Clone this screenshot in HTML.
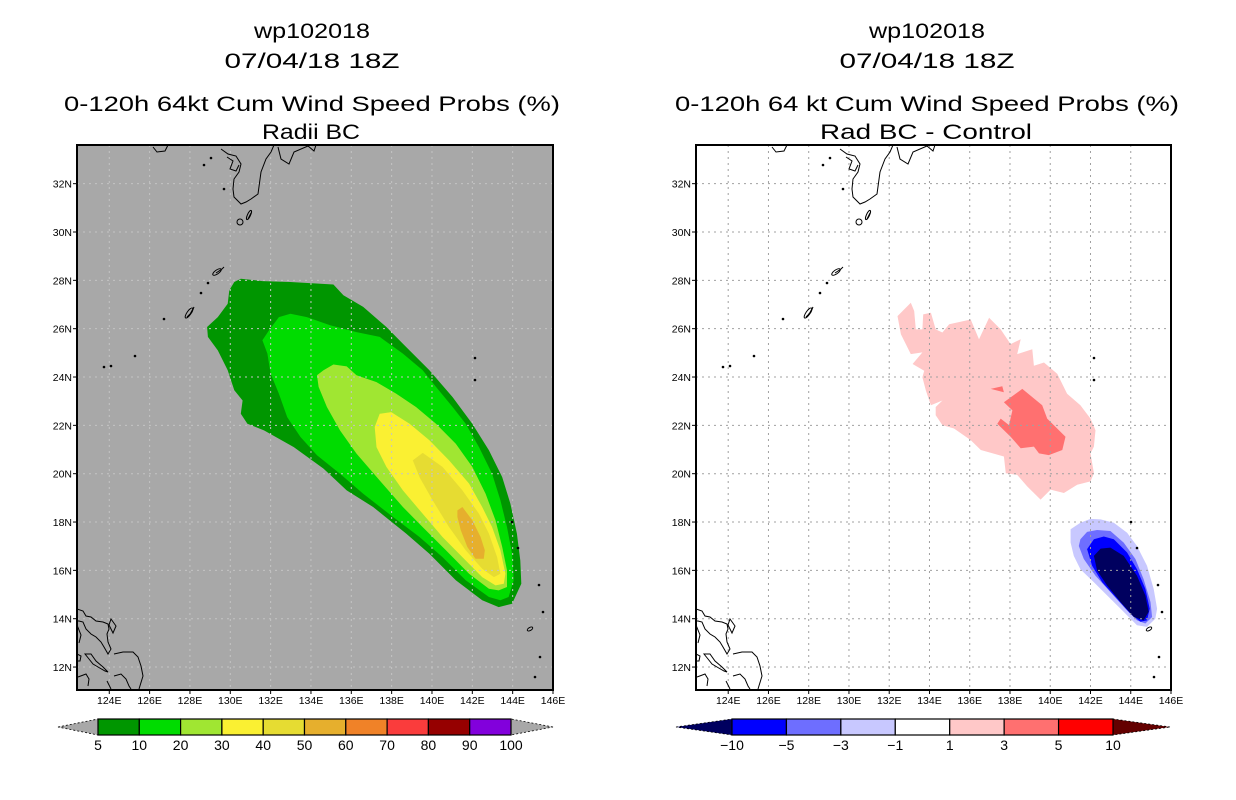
<!DOCTYPE html>
<html><head><meta charset="utf-8">
<style>
html,body{margin:0;padding:0;background:#fff;}
svg{display:block;font-family:"Liberation Sans",sans-serif;}
</style></head>
<body>
<svg id="fig" width="1236" height="800" viewBox="0 0 1236 800" xmlns="http://www.w3.org/2000/svg">
  <g font-size="21" text-anchor="middle" fill="#000">
    <text x="312" y="38" textLength="116" lengthAdjust="spacingAndGlyphs">wp102018</text>
    <text x="312" y="68" textLength="175" lengthAdjust="spacingAndGlyphs">07/04/18 18Z</text>
    <text x="312" y="111" textLength="496" lengthAdjust="spacingAndGlyphs">0-120h 64kt Cum Wind Speed Probs (%)</text>
    <text x="311" y="139" textLength="98" lengthAdjust="spacingAndGlyphs">Radii BC</text>
  </g>
  <g font-size="21" text-anchor="middle" fill="#000">
    <text x="927" y="38" textLength="116" lengthAdjust="spacingAndGlyphs">wp102018</text>
    <text x="927" y="68" textLength="175" lengthAdjust="spacingAndGlyphs">07/04/18 18Z</text>
    <text x="927" y="111" textLength="504" lengthAdjust="spacingAndGlyphs">0-120h 64 kt Cum Wind Speed Probs (%)</text>
    <text x="926" y="139" textLength="212" lengthAdjust="spacingAndGlyphs">Rad BC - Control</text>
  </g>
  <g id="leftPanel"></g>
  <g id="rightPanel"></g>
  <g id="leftBar"></g>
  <g id="rightBar"></g>
</svg>
<script>
// ---- data ----
const lonTicks = [124,126,128,130,132,134,136,138,140,142,144,146];
const latTicks = [12,14,16,18,20,22,24,26,28,30,32];
const leftLevels = [5,10,20,30,40,50,60,70,80,90,100];
const leftColors = ["#009600","#00dc00","#a0e632","#faf032","#e6dc32","#e6af2d","#f08228","#fa3c3c","#960000","#8200dc"];
const rightLevels = [-10,-5,-3,-1,1,3,5,10];
const rightColors = ["#00005f","#0000ff","#6e6eff","#c8c8ff","#ffffff","#ffc8c8","#ff7070","#ff0000","#640000"];
// contour polygons [lon,lat]
const prob5 = [[130.52,28.07],[131.59,27.97],[132.98,27.93],[135.11,27.83],[135.61,27.38],[136.59,26.90],[137.74,26.07],[138.56,25.38],[139.87,24.28],[141.02,23.17],[142.0,22.07],[142.82,20.97],[143.48,19.86],[143.89,18.76],[144.21,17.52],[144.38,16.41],[144.43,15.45],[143.97,14.62],[143.31,14.48],[142.49,14.76],[141.18,15.59],[139.87,16.69],[138.72,17.52],[137.08,18.62],[135.77,19.31],[134.62,20.21],[133.15,21.10],[131.67,21.79],[130.85,22.07],[130.52,22.48],[130.61,23.03],[130.20,23.45],[129.87,24.28],[129.38,25.10],[128.89,25.66],[128.85,26.07],[129.38,26.48],[129.87,27.03],[129.95,27.59],[130.20,27.93]];
const prob10 = [[132.41,26.48],[132.98,26.62],[133.80,26.48],[134.95,26.14],[136.26,25.86],[137.41,25.66],[138.56,24.97],[139.54,24.28],[140.20,23.59],[141.02,22.76],[141.67,22.07],[142.33,21.10],[142.98,20.0],[143.39,18.90],[143.72,17.79],[143.97,16.69],[144.05,15.59],[143.80,14.90],[143.39,14.76],[142.82,14.90],[141.67,15.59],[140.52,16.55],[139.38,17.38],[138.07,18.21],[136.59,19.17],[135.44,20.0],[134.30,20.76],[133.48,21.52],[132.82,22.34],[132.41,23.31],[132.0,24.14],[131.84,24.97],[131.59,25.52],[131.92,25.93]];
const prob20 = [[134.62,24.28],[135.11,24.52],[135.77,24.44],[136.26,24.07],[137.25,23.79],[138.23,23.31],[139.21,22.76],[140.20,22.07],[141.18,21.24],[142.0,20.28],[142.66,19.17],[143.15,18.07],[143.48,16.97],[143.72,16.0],[143.72,15.31],[143.31,15.17],[142.82,15.24],[141.84,15.86],[140.69,16.83],[139.54,17.79],[138.56,18.62],[137.41,19.72],[136.26,20.83],[135.44,21.79],[134.79,22.76],[134.38,23.59],[134.30,24.07]];
const prob30 = [[137.41,22.48],[137.98,22.55],[138.89,22.07],[139.87,21.38],[140.85,20.55],[141.84,19.59],[142.49,18.62],[142.98,17.79],[143.39,16.83],[143.64,15.86],[143.56,15.45],[143.15,15.38],[142.49,15.72],[141.51,16.55],[140.52,17.38],[139.54,18.34],[138.56,19.31],[137.74,20.28],[137.25,21.10],[137.16,21.93]];
const prob40 = [[139.05,20.55],[139.54,20.86],[140.52,20.28],[141.51,19.31],[142.33,18.34],[142.82,17.52],[143.23,16.55],[143.39,15.86],[143.07,15.72],[142.49,16.07],[141.67,16.83],[140.85,17.79],[140.03,18.90],[139.38,19.86]];
const prob50 = [[141.26,18.48],[141.51,18.62],[142.0,18.07],[142.41,17.38],[142.62,16.83],[142.57,16.48],[142.16,16.48],[141.75,16.97],[141.43,17.66],[141.26,18.21]];
const diffPos1 = [[132.41,26.52],[133.07,27.07],[133.24,26.73],[133.32,25.97],[133.65,25.97],[133.69,26.59],[134.07,26.66],[134.31,25.97],[134.64,25.84],[134.98,26.18],[136.05,26.38],[136.46,25.56],[136.96,26.45],[137.54,25.97],[138.03,25.36],[138.53,25.56],[138.36,24.95],[139.11,25.15],[139.19,24.47],[139.69,24.60],[140.35,24.13],[140.84,23.31],[141.50,22.83],[142.0,22.28],[142.25,21.80],[142.17,21.12],[142.0,20.84],[142.17,20.02],[142.0,19.68],[141.34,19.54],[140.68,19.20],[140.02,19.34],[139.52,18.93],[138.86,19.47],[138.36,19.95],[137.79,20.02],[137.70,20.71],[136.55,20.98],[136.05,21.39],[135.22,21.87],[134.64,22.01],[134.31,22.42],[134.31,22.76],[134.64,23.03],[134.07,22.83],[133.82,23.44],[133.65,23.99],[133.74,24.26],[133.16,24.54],[133.65,25.02],[133.07,24.95],[132.58,25.77]];
const diffPos1b = [[132.41,24.95],[133.07,24.9],[133.2,25.0]];
const diffPos3 = [[137.70,22.96],[138.61,23.51],[139.60,22.83],[139.85,22.28],[140.76,21.53],[140.60,20.98],[139.93,20.77],[139.44,20.84],[139.19,21.12],[138.53,21.05],[138.03,21.53],[137.37,22.07],[137.54,22.28],[137.95,22.01],[138.12,22.62]];
const diffPos3b = [[137.04,23.51],[137.62,23.62],[137.70,23.37]];
const diffNeg1 = [[141.01,17.70],[141.50,17.97],[142.0,18.13],[142.50,18.11],[143.16,17.97],[143.82,17.56],[144.31,17.01],[144.81,16.19],[145.14,15.23],[145.31,14.41],[145.22,14.0],[144.81,13.66],[144.31,13.73],[143.65,14.28],[142.83,14.96],[142.17,15.51],[141.50,16.05],[141.17,16.60],[141.01,17.15]];
const diffNeg3 = [[141.50,17.29],[141.83,17.59],[142.33,17.67],[142.99,17.63],[143.65,17.15],[144.23,16.47],[144.64,15.64],[144.98,14.69],[145.06,14.07],[144.73,13.80],[144.31,13.93],[143.74,14.41],[142.99,15.10],[142.25,15.78],[141.67,16.47],[141.42,17.01]];
const diffNeg5 = [[141.83,16.88],[142.17,17.29],[142.66,17.40],[143.16,17.29],[143.82,16.74],[144.31,16.05],[144.73,15.23],[144.94,14.41],[144.81,13.93],[144.48,13.87],[143.98,14.21],[143.32,14.82],[142.58,15.51],[142.08,16.19]];
const diffNeg10 = [[142.17,16.60],[142.50,16.90],[142.99,16.94],[143.65,16.60],[144.31,15.78],[144.73,14.96],[144.89,14.28],[144.64,13.93],[144.15,14.07],[143.49,14.69],[142.83,15.37],[142.33,15.99]];

const NS = "http://www.w3.org/2000/svg";
function mk(tag, attrs, parent){ const e=document.createElementNS(NS,tag); for(const k in attrs) e.setAttribute(k,attrs[k]); if(parent) parent.appendChild(e); return e; }

function drawPanel(g, P, bg, gridColor, fills){
  const LON0=122.4, LON1=146, LAT0=11.05, LAT1=33.6;
  const xs = lon => P.x0 + (lon-LON0)/(LON1-LON0)*(P.x1-P.x0);
  const ys = lat => P.y0 + (LAT1-lat)/(LAT1-LAT0)*(P.y1-P.y0);
  const bgR = mk('rect',{x:P.x0,y:P.y0,width:P.x1-P.x0,height:P.y1-P.y0,fill:bg},g);
  
  
  const clipId = 'clip'+P.x0;
  const cp = mk('clipPath',{id:clipId},g);
  mk('rect',{x:P.x0,y:P.y0,width:P.x1-P.x0,height:P.y1-P.y0},cp);
  const inner = mk('g',{'clip-path':'url(#'+clipId+')'},g);
  fills.forEach(f=>{
    const p = mk('polygon',{points:f.poly.map(q=>xs(q[0]).toFixed(1)+','+ys(q[1]).toFixed(1)).join(' '),fill:f.color},inner);
    
    
  });
  // grid
  lonTicks.forEach(l=>{ if(l<146){ const ln=mk('line',{x1:xs(l),x2:xs(l),y1:P.y0,y2:P.y1,stroke:gridColor,'stroke-width':1,'stroke-dasharray':'2,4'},inner);
    
     }});
  latTicks.forEach(l=>{ const ln=mk('line',{x1:P.x0,x2:P.x1,y1:ys(l),y2:ys(l),stroke:gridColor,'stroke-width':1,'stroke-dasharray':'2,4'},inner);
    
     });
  // coastlines (panel-relative pixel outlines)
  const coast = mk('g',{fill:'none',stroke:'#000','stroke-width':1,transform:'translate('+P.x0+','+P.y0+')'},inner);
  
  
  const paths = [
    "M144,4 L151,9 L159,11 L164,19 L162,27 L157,34 L156,44 L157,52 L164,59 L169,57 L174,54 L181,49 L184,27 L189,14 L194,7 L197,0",
    "M201,2 L204,14 L212,19 L217,7 L231,1 L237,6 L239,0",
    "M76,2 L80,7 L88,6 L91,0",
    "M150,12 L156,16 L153,24 L159,26 L162,20",
    "M171,74 L174,68", "M139,128 L145,124 L147,122",
    "M112,171 L117,162 L115,167 L110,172 Z",
    "M0,464 L6,466 L9,471 L14,472 L19,476 L26,477 L31,479 L32,484 L30,489 L31,497 L34,504 L31,509 L27,502 L24,497 L19,492 L14,489 L9,484 L6,477 L2,476 L0,476",
    "M34,474 L39,481 L36,488 L32,480 Z",
    "M37,509 L46,507 L56,507 L61,512 L64,521 L66,531 L62,544",
    "M8,509 L14,509 L19,516 L26,522 L31,527 L28,526 L21,522 L16,519 L12,514 Z",
    "M37,531 L44,529 L49,534 L52,541 L54,544",
    "M0,509 L4,511 L3,516 L0,516",
    "M1,532 L9,529 L12,534 L11,541",
    "M30,536 L34,544", "M0,480 L4,490 L2,498"
  ];
  paths.forEach(d=>mk('path',{d:d},coast));
  [[127,20],[134,13],[147,44],[131,138],[124,148],[87,174],[58,211],[34,221],[27,222],[398,213],[398,235],[435,377],[441,403],[462,440],[466,467],[463,512],[458,532]].forEach(c=>mk('circle',{cx:c[0],cy:c[1],r:1.3,fill:'#000',stroke:'none'},coast));
  mk('circle',{cx:163,cy:77,r:3},coast);
  mk('ellipse',{cx:172,cy:70,rx:1.5,ry:5,transform:'rotate(25 172 70)'},coast);
  mk('ellipse',{cx:140,cy:127,rx:5,ry:2,transform:'rotate(-35 140 127)'},coast);
  mk('ellipse',{cx:112,cy:168,rx:6,ry:2,transform:'rotate(-55 112 168)'},coast);
  mk('ellipse',{cx:453,cy:484,rx:3,ry:1.5,transform:'rotate(-30 453 484)'},coast);
  // frame
  const fr = mk('rect',{x:P.x0,y:P.y0,width:P.x1-P.x0,height:P.y1-P.y0,fill:'none',stroke:'#000','stroke-width':2},g);
  
  
  // ticks & labels
  lonTicks.forEach(l=>{
    mk('line',{x1:xs(l),x2:xs(l),y1:P.y1,y2:P.y1+4,stroke:'#000'},g);
    const t=mk('text',{x:xs(l),y:P.y1+14,'font-size':10.5,'text-anchor':'middle'},g);
    t.textContent=l+'E';
    
    
  });
  latTicks.forEach(l=>{
    mk('line',{x1:P.x0-4,x2:P.x0,y1:ys(l),y2:ys(l),stroke:'#000'},g);
    const t=mk('text',{x:P.x0-5,y:ys(l)+4,'font-size':10.5,'text-anchor':'end'},g);
    t.textContent=l+'N';
    
    
  });
}

drawPanel(document.getElementById('leftPanel'),{x0:77,x1:553,y0:145,y1:690},'#a8a8a8','#c4c4c4',[
  {poly:prob5,color:leftColors[0],name:'prob-5-10'},
  {poly:prob10,color:leftColors[1],name:'prob-10-20'},
  {poly:prob20,color:leftColors[2],name:'prob-20-30'},
  {poly:prob30,color:leftColors[3],name:'prob-30-40'},
  {poly:prob40,color:leftColors[4],name:'prob-40-50'},
  {poly:prob50,color:leftColors[5],name:'prob-50-60'}
]);
drawPanel(document.getElementById('rightPanel'),{x0:696,x1:1171,y0:145,y1:690},'#ffffff','#a0a0a0',[
  {poly:diffPos1,color:rightColors[5],name:'diff-1-3'},
  {poly:diffPos3,color:rightColors[6],name:'diff-3-5'},
  {poly:diffPos3b,color:rightColors[6],name:'diff-3-5-small'},
  {poly:diffNeg1,color:rightColors[3],name:'diff-neg1-neg3'},
  {poly:diffNeg3,color:rightColors[2],name:'diff-neg3-neg5'},
  {poly:diffNeg5,color:rightColors[1],name:'diff-neg5-neg10'},
  {poly:diffNeg10,color:rightColors[0],name:'diff-below-neg10'}
]);

function drawBar(g, tipL, x0, x1, tipR, colors, levels, triL, triR){
  const y0=719, y1=735, ym=727, n=colors.length;
  const w=(x1-x0)/n;
  const tl=mk('polygon',{points:`${tipL},${ym} ${x0},${y0} ${x0},${y1}`,fill:triL,stroke:'#000','stroke-width':0.8,'stroke-dasharray':'2,2'},g);
  
  
  const tr=mk('polygon',{points:`${tipR},${ym} ${x1},${y0} ${x1},${y1}`,fill:triR,stroke:'#000','stroke-width':0.8,'stroke-dasharray':'2,2'},g);
  
  
  colors.forEach((c,i)=>{
    const r=mk('rect',{x:x0+i*w,y:y0,width:w,height:y1-y0,fill:c,stroke:'#000','stroke-width':1.2},g);
    
    
  });
  levels.forEach((v,i)=>{
    const t=mk('text',{x:x0+i*w,y:750,'font-size':14,'text-anchor':'middle'},g);
    t.textContent=String(v).replace('-','\u2212');
    
    
  });
}
drawBar(document.getElementById('leftBar'),58,98,511,553,leftColors,leftLevels,'#a8a8a8','#a8a8a8');
drawBar(document.getElementById('rightBar'),676,732,1113,1170,rightColors.slice(1,8),rightLevels,rightColors[0],rightColors[8]);
</script>
</body></html>
